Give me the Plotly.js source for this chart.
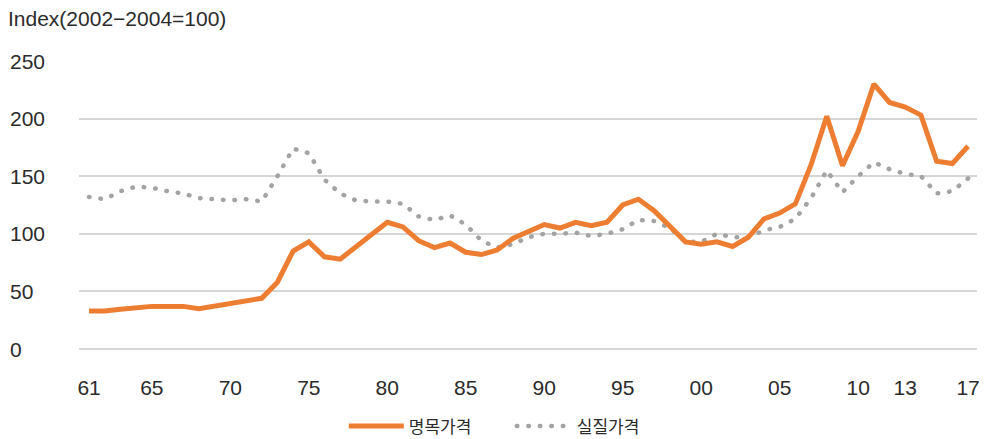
<!DOCTYPE html>
<html>
<head>
<meta charset="utf-8">
<script src="https://cdn.plot.ly/plotly-3.0.1.min.js"></script>
<style>
  html, body { margin: 0; padding: 0; background: #fff; }
  #chart { width: 985px; height: 439px; }
</style>
</head>
<body>
<div id="chart"></div>
<script>
// Price index, 2002-2004 = 100
const years = [1961, 1962, 1963, 1964, 1965, 1966, 1967, 1968, 1969, 1970,
  1971, 1972, 1973, 1974, 1975, 1976, 1977, 1978, 1979, 1980,
  1981, 1982, 1983, 1984, 1985, 1986, 1987, 1988, 1989, 1990,
  1991, 1992, 1993, 1994, 1995, 1996, 1997, 1998, 1999, 2000,
  2001, 2002, 2003, 2004, 2005, 2006, 2007, 2008, 2009, 2010,
  2011, 2012, 2013, 2014, 2015, 2016, 2017];

// 명목가격 (nominal)
const nominal = [33, 33, 34.5, 36, 37, 37, 37, 35, 37, 39,
  42, 44, 58, 85, 93, 80, 78, 89, 99, 110,
  106, 94, 88, 92, 84, 82, 86, 96, 102, 108,
  105, 110, 107, 110, 125, 130, 120, 107, 93, 91,
  93, 89, 97, 113, 118, 126, 160, 202, 159, 189,
  230, 214, 210, 203, 163, 161, 176];

// 실질가격 (real)
const real = [132, 130, 137, 141, 140, 137, 135, 131, 130, 129,
  130, 128, 150, 174, 170, 147, 135, 129, 128, 128,
  126, 115, 112, 116, 108, 94, 88, 91, 97, 100,
  100, 101, 98, 100, 104, 112, 111, 105, 93, 93,
  100, 97, 97, 103, 106, 113, 131, 155, 136, 150,
  162, 156, 152, 150, 135, 137, 148];

const xTickVals = [1961, 1965, 1970, 1975, 1980, 1985, 1990, 1995, 2000, 2005, 2010, 2013, 2017];
const xTickText = ['61', '65', '70', '75', '80', '85', '90', '95', '00', '05', '10', '13', '17'];
const yTickVals = [0, 50, 100, 150, 200, 250];

const textColor = '#2b2b2b';
const baseFont = 'Liberation Sans, Arial, sans-serif';

const traces = [
  {
    x: years, y: real, name: '실질가격', type: 'scatter', mode: 'lines',
    line: { color: '#a3a3a3', width: 4.5, dash: '0.5px,11px' },
    legendrank: 2, hoverinfo: 'skip'
  },
  {
    x: years, y: nominal, name: '명목가격', type: 'scatter', mode: 'lines',
    line: { color: '#ed7d31', width: 5 },
    legendrank: 1, hoverinfo: 'skip'
  }
];

// y tick labels are left-aligned at the page edge
const yLabels = yTickVals.map(v => ({
  xref: 'paper', yref: 'y', x: -71 / 898, y: v,
  xanchor: 'left', yanchor: 'middle', showarrow: false,
  text: String(v), font: { family: baseFont, size: 21, color: textColor }
}));

const layout = {
  width: 985, height: 439,
  margin: { l: 79, r: 8, t: 61, b: 90, autoexpand: false },
  paper_bgcolor: '#fff', plot_bgcolor: '#fff',
  showlegend: true,
  title: {
    text: 'Index(2002−2004=100)',
    x: 8 / 985, xanchor: 'left', xref: 'container',
    y: 1 - 19 / 439, yanchor: 'middle', yref: 'container',
    font: { family: baseFont, size: 21, color: textColor }
  },
  xaxis: {
    range: [1960.36, 2017.57],
    tickmode: 'array', tickvals: xTickVals, ticktext: xTickText,
    showgrid: false, zeroline: false, showline: false, ticks: '',
    tickfont: { family: baseFont, size: 21, color: textColor },
    ticklabelstandoff: 24
  },
  yaxis: {
    range: [0, 250],
    tickmode: 'array', tickvals: yTickVals,
    showticklabels: false,
    showgrid: true, gridcolor: '#d6d6d6', gridwidth: 2,
    zeroline: true, zerolinecolor: '#d6d6d6', zerolinewidth: 2,
    showline: false, ticks: ''
  },
  legend: {
    orientation: 'h', x: 0.482, xanchor: 'center', y: -0.206, yanchor: 'top',
    font: { family: 'Noto Sans CJK KR, sans-serif', size: 17, color: textColor },
    itemwidth: 55, entrywidth: 98
  },
  annotations: yLabels
};

// round caps turn the short dashes of the real-price line into dots
function roundDots(gd) {
  gd.querySelectorAll('path').forEach(p => {
    const da = p.style.strokeDasharray;
    if (da && da !== 'none') p.style.strokeLinecap = 'round';
  });
}

const gd = document.getElementById('chart');
Plotly.newPlot(gd, traces, layout, { displayModeBar: false, staticPlot: true })
  .then(() => roundDots(gd));
</script>
</body>
</html>
